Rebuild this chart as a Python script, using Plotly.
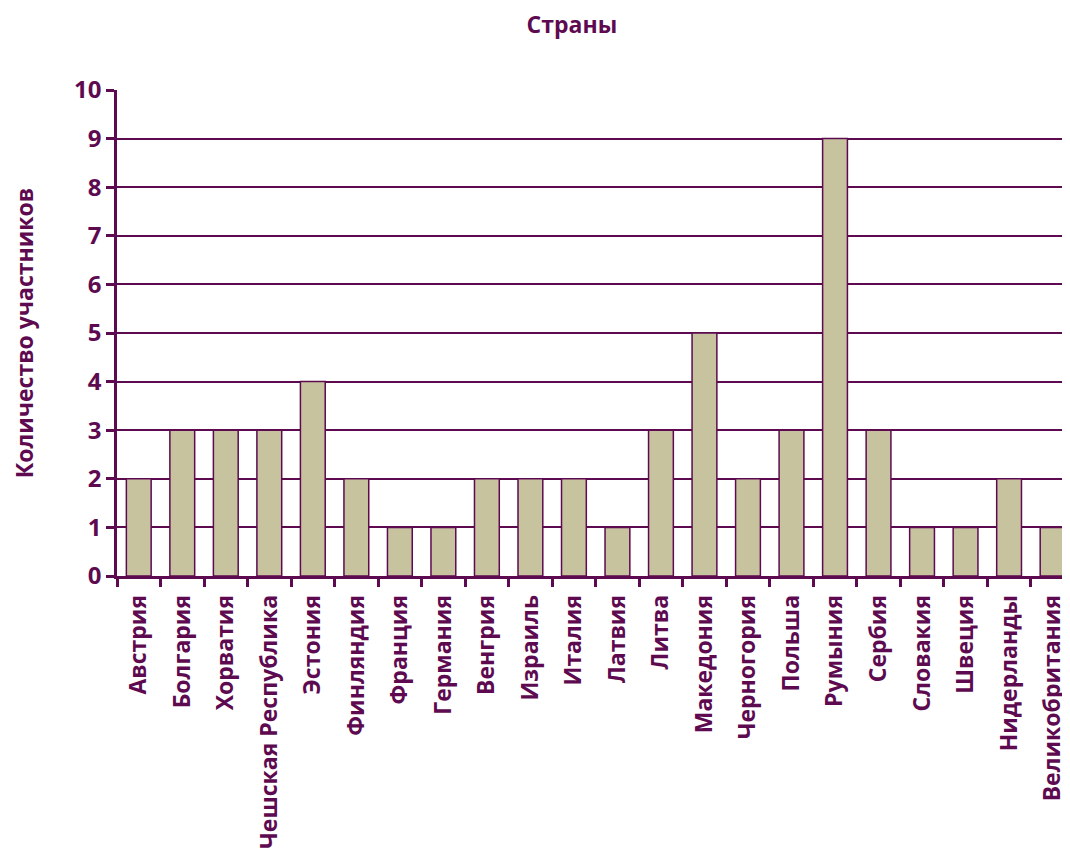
import plotly.graph_objects as go

countries = ["Австрия", "Болгария", "Хорватия", "Чешская Республика", "Эстония",
             "Финляндия", "Франция", "Германия", "Венгрия", "Израиль", "Италия",
             "Латвия", "Литва", "Македония", "Черногория", "Польша", "Румыния",
             "Сербия", "Словакия", "Швеция", "Нидерланды", "Великобритания"]
participants = [2, 3, 3, 3, 4, 2, 1, 1, 2, 2, 2, 1, 3, 5, 2, 3, 9, 3, 1, 1, 2, 1]

purple = "#5E0A50"
fill = "#C6C39E"

fig = go.Figure(go.Bar(
    x=countries, y=participants,
    marker=dict(color=fill, line=dict(color=purple, width=1.5)),
))

fig.update_layout(
    width=1062, height=849,
    margin=dict(l=109, r=0, t=82, b=281),
    paper_bgcolor="white", plot_bgcolor="white",
    bargap=0.43,
    showlegend=False,
    font=dict(family="Open Sans", color=purple),
    title=dict(text="<b>Страны</b>", x=0.531, xref="container", xanchor="center",
               y=0.98, yref="container", yanchor="middle",
               font=dict(size=23, color=purple, family="Open Sans")),
)
fig.update_xaxes(
    type="category", range=[-0.5, 21.4], tickson="boundaries",
    ticks="outside", ticklen=8, tickwidth=2.5, tickcolor=purple,
    tickangle=-90, ticklabelstandoff=7,
    tickfont=dict(size=23, color=purple, family="Open Sans", weight="bold"),
    showline=True, linecolor=purple, linewidth=2.5, showgrid=False,
    automargin=False,
)
fig.update_yaxes(
    range=[0, 10], dtick=1, tick0=0,
    ticks="outside", ticklen=8, tickwidth=2.5, tickcolor=purple,
    tickfont=dict(size=24, color=purple, family="Open Sans", weight="bold"),
    showline=True, linecolor=purple, linewidth=2.5,
    showgrid=True, gridcolor=purple, gridwidth=1.5,
    zeroline=False,
    title=dict(text="<b>Количество участников</b>", standoff=46,
               font=dict(size=23, color=purple, family="Open Sans")),
    automargin=False,
)

fig.write_html("out.html")
